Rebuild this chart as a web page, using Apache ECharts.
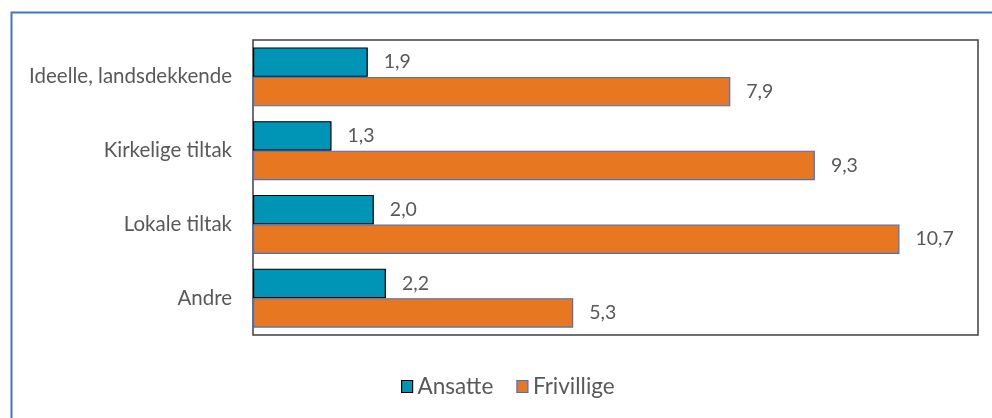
<!DOCTYPE html>
<html>
<head>
<meta charset="utf-8">
<script src="https://cdn.jsdelivr.net/npm/echarts@6/dist/echarts.min.js"></script>
<style>html,body{margin:0;padding:0;background:#fff}#c{width:992px;height:418px}</style>
</head>
<body>
<div id="c"></div>
<script>
const categories = ['Ideelle, landsdekkende', 'Kirkelige tiltak', 'Lokale tiltak', 'Andre'];
const ansatte = [1.9, 1.3, 2.0, 2.2];
const frivillige = [7.9, 9.3, 10.7, 5.3];
const seriesNames = ['Ansatte', 'Frivillige'];

const FONT = 'Lato';
const fmt = p => p.value.toFixed(1).replace('.', ',');
const chart = echarts.init(document.getElementById('c'));
chart.setOption({
  animation: false,
  textStyle: { fontFamily: FONT },
  graphic: [{
    type: 'rect', left: 9, top: 10, silent: true,
    shape: { width: 1000, height: 500 },
    style: { fill: 'none', stroke: '#4472C4', lineWidth: 2 }
  }],
  grid: { left: 253, top: 40, right: 14, bottom: 83, show: true, borderColor: '#404040', borderWidth: 1.5, backgroundColor: 'transparent' },
  xAxis: { type: 'value', min: 0, max: 12, show: false, splitLine: { show: false } },
  yAxis: {
    type: 'category', data: categories, inverse: true,
    axisLine: { show: false }, axisTick: { show: false },
    axisLabel: { margin: 21, fontSize: 20.5, color: '#595959', fontFamily: FONT }
  },
  legend: {
    top: 370, left: 396, itemWidth: 11, itemHeight: 12, itemGap: 23,
    textStyle: { fontSize: 22.5, color: '#595959', fontFamily: FONT },
    data: [
      { name: seriesNames[0], icon: 'rect', itemStyle: { color: '#0095B6', borderColor: '#000', borderWidth: 1.2 } },
      { name: seriesNames[1], icon: 'rect', itemStyle: { color: '#E87722', borderColor: '#4472C4', borderWidth: 1.2 } }
    ]
  },
  series: [
    {
      name: seriesNames[0], type: 'bar', data: ansatte, barGap: '0%', barCategoryGap: '20%',
      itemStyle: { color: '#0095B6', borderColor: '#000', borderWidth: 1.2 },
      label: { show: true, position: 'right', distance: 16, fontSize: 19.5, color: '#595959', fontFamily: FONT, formatter: fmt }
    },
    {
      name: seriesNames[1], type: 'bar', data: frivillige, barGap: '0%', barCategoryGap: '20%',
      itemStyle: { color: '#E87722', borderColor: '#4472C4', borderWidth: 1.2 },
      label: { show: true, position: 'right', distance: 16, fontSize: 19.5, color: '#595959', fontFamily: FONT, formatter: fmt }
    }
  ]
});
</script>
</body>
</html>
